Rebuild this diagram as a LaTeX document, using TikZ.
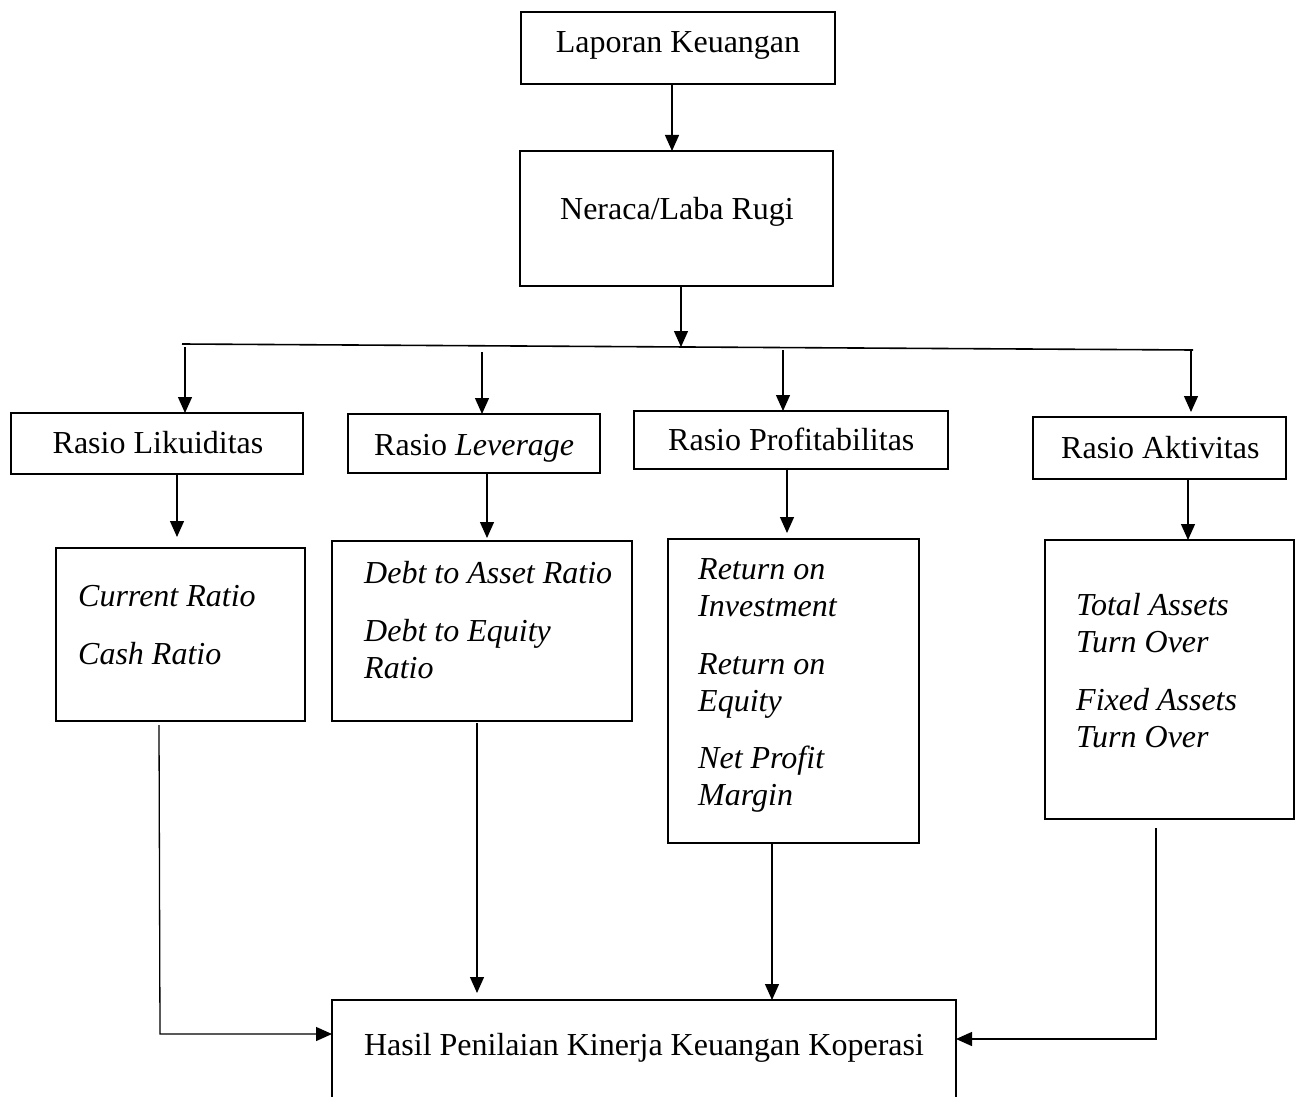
\documentclass[tikz,border=0pt]{standalone}
\usepackage{fontspec}
\setmainfont{Liberation Serif}
\usetikzlibrary{arrows.meta,fit,calc}
\begin{document}
\begin{tikzpicture}[x=1pt,y=-1pt,
  box/.style={draw, line width=2.6pt, inner sep=0pt, outer sep=0pt},
  txt/.style={inner sep=0pt, font=\fontsize{32}{37}\selectfont},
  conn/.style={line width=1.3pt},
  arr/.style={line width=1.3pt, -{Triangle[length=16pt,width=14pt]}}]
\path[use as bounding box] (0,0) rectangle (1302,1097);
\clip (0,0) rectangle (1302,1097);
\fill[white] (0,0) rectangle (1302,1097);

% boxes
\node[box, fit={(521,12) (835,84)}] (lap) {};
\node[box, fit={(520,151) (833,286)}] (ner) {};
\node[box, fit={(11,413) (303,474)}] (lik) {};
\node[box, fit={(348,414) (600,473)}] (lev) {};
\node[box, fit={(634,411) (948,469)}] (pro) {};
\node[box, fit={(1033,417) (1286,479)}] (akt) {};
\node[box, fit={(56,548) (305,721)}] (cur) {};
\node[box, fit={(332,541) (632,721)}] (debt) {};
\node[box, fit={(668,539) (919,843)}] (ret) {};
\node[box, fit={(1045,540) (1294,819)}] (tot) {};
\node[box, fit={(332,1000) (956,1115)}] (has) {};

% texts
\node[txt, anchor=base] (tlap) at (678,53) {Laporan Keuangan};
\node[txt, anchor=base] (tner) at (677,219) {Neraca/Laba Rugi};
\node[txt, anchor=base] (tlik) at (158,453) {Rasio Likuiditas};
\node[txt, anchor=base west] (tlev) at (374,455) {Rasio \textit{Leverage}};
\node[txt, anchor=base west] (tpro) at (668,450) {Rasio Profitabilitas};
\node[txt, anchor=base west] (takt) at (1061,458) {Rasio Aktivitas};

\node[txt, anchor=base west] (c1) at (78,606) {\textit{Current Ratio}};
\node[txt, anchor=base west] (c2) at (78,664) {\textit{Cash Ratio}};

\node[txt, anchor=base west] (d1) at (364,583) {\textit{Debt to Asset Ratio}};
\node[txt, anchor=base west] (d2) at (364,641) {\textit{Debt to Equity}};
\node[txt, anchor=base west] (d3) at (364,678) {\textit{Ratio}};

\node[txt, anchor=base west] (r1) at (698,579) {\textit{Return on}};
\node[txt, anchor=base west] (r2) at (698,616) {\textit{Investment}};
\node[txt, anchor=base west] (r3) at (698,674) {\textit{Return on}};
\node[txt, anchor=base west] (r4) at (698,711) {\textit{Equity}};
\node[txt, anchor=base west] (r5) at (698,768) {\textit{Net Profit}};
\node[txt, anchor=base west] (r6) at (698,805) {\textit{Margin}};

\node[txt, anchor=base west] (f1) at (1076,615) {\textit{Total Assets}};
\node[txt, anchor=base west] (f2) at (1076,652) {\textit{Turn Over}};
\node[txt, anchor=base west] (f3) at (1076,710) {\textit{Fixed Assets}};
\node[txt, anchor=base west] (f4) at (1076,747) {\textit{Turn Over}};

\node[txt, anchor=base] (thas) at (644,1055) {Hasil Penilaian Kinerja Keuangan Koperasi};

% distribution bar
\coordinate (barL) at (182,344);
\coordinate (barR) at (1193,350);
\draw[line width=1.6pt] (barL) -- (barR);

% connectors
\draw[arr] (672,84) -- (672,151);
\draw[arr] (681,286) -- (681,347);

\draw[arr] (185,347) -- (lik.north -| 185,0);
\draw[arr] (482,352) -- (lev.north -| 482,0);
\draw[arr] (783,350) -- (pro.north -| 783,0);
\draw[arr] (1191,351) -- (1191,412);

\draw[arr] (lik.south -| 177,0) -- (177,537);
\draw[arr] (lev.south -| 487,0) -- (487,538);
\draw[arr] (pro.south -| 787,0) -- (787,533);
\draw[arr] (akt.south -| 1188,0) -- (tot.north -| 1188,0);

\coordinate (lc1) at (159,725);
\coordinate (lc2) at (160,1034);
\draw[arr] (lc1) -- (lc2) -- (has.west |- lc2);
\draw[arr] (477,723) -- (477,993);
\draw[arr] (ret.south -| 772,0) -- (has.north -| 772,0);
\coordinate (rc1) at (1156,828);
\coordinate (rc2) at (1156,1039);
\draw[arr] (rc1) -- (rc2) -- (has.east |- rc2);
\end{tikzpicture}
\end{document}
